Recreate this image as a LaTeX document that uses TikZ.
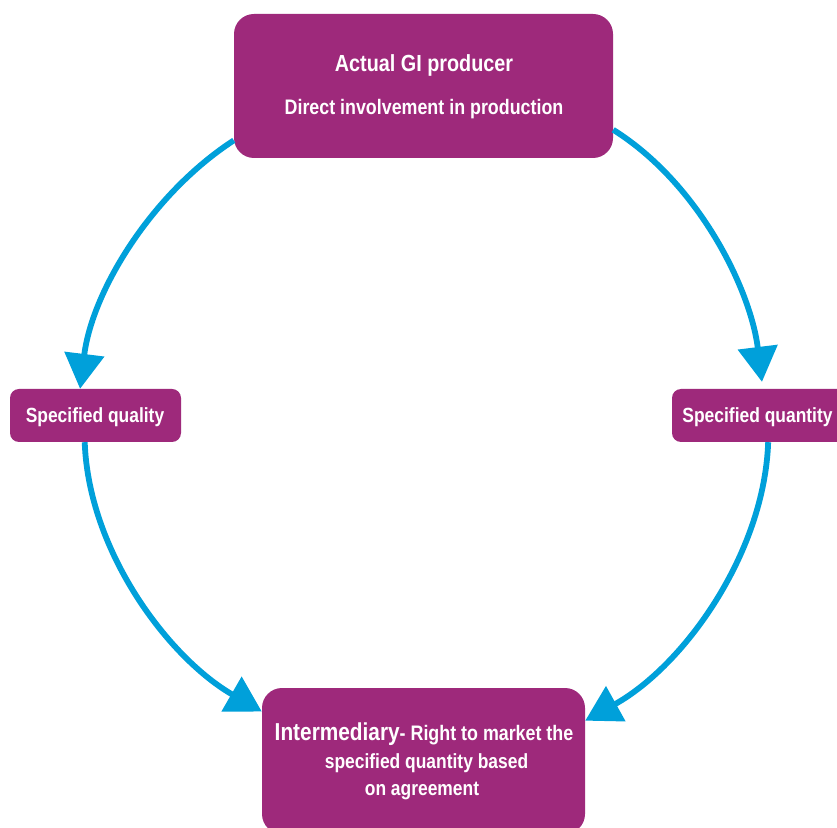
\documentclass[tikz,border=0pt]{standalone}
\usepackage{fontspec}
\setmainfont{Liberation Sans}[FakeStretch=0.85]
\usetikzlibrary{arrows.meta}
\definecolor{giPurple}{RGB}{158,41,123}
\definecolor{giBlue}{RGB}{0,160,218}
\begin{document}
\begin{tikzpicture}[x=1pt,y=1pt,
  box/.style={fill=giPurple,draw=none,inner sep=0pt},
  txt/.style={text=white,anchor=base,inner sep=0pt,font=\bfseries},
  flow/.style={draw=giBlue,line width=5.8pt,-{Triangle[length=35pt,width=39pt]},looseness=0.86}]
\useasboundingbox[fill=white] (0,0) rectangle (837,827);

% boxes
\node[box,rounded corners=20pt,minimum width=379pt,minimum height=144pt] (top) at (423.5,741) {};
\node[box,rounded corners=9pt,minimum width=171pt,minimum height=53pt] (left) at (95.5,411.5) {};
\node[box,rounded corners=9pt,minimum width=176pt,minimum height=53pt] (right) at (760,411.5) {};
\node[box,rounded corners=20pt,minimum width=323pt,minimum height=146pt] (bottom) at (423.5,66) {};

% texts
\node[txt,font=\bfseries\fontsize{23.3}{28}\selectfont] (topA) at (424,755) {Actual GI producer};
\node[txt,font=\bfseries\fontsize{21}{25}\selectfont] (topB) at (424,712) {Direct involvement in production};
\node[txt,font=\bfseries\fontsize{20.5}{25}\selectfont] (leftT) at (95,404.5) {Specified quality};
\node[txt,font=\bfseries\fontsize{20.5}{25}\selectfont] (rightT) at (757.5,404.5) {Specified quantity};
\node[txt] (botA) at (424,87) {{\fontsize{24.5}{28}\selectfont Intermediary}{\fontsize{21}{25}\selectfont- Right to market the}};
\node[txt,font=\bfseries\fontsize{20.5}{25}\selectfont] (botB) at (426.5,59) {specified quantity based};
\node[txt,font=\bfseries\fontsize{20.5}{25}\selectfont] (botC) at (422,32) {on agreement};

% connectors
\draw[flow] (top.196) to[out=213,in=83] (left.120);
\draw[flow,shorten >=7pt] (top.-13) to[out=-32,in=97] (right.84);
\draw[flow] (left.248) to[out=272,in=150] (bottom.163);
\draw[flow] (right.-73) to[out=-92,in=29] (bottom.14);
\end{tikzpicture}
\end{document}
